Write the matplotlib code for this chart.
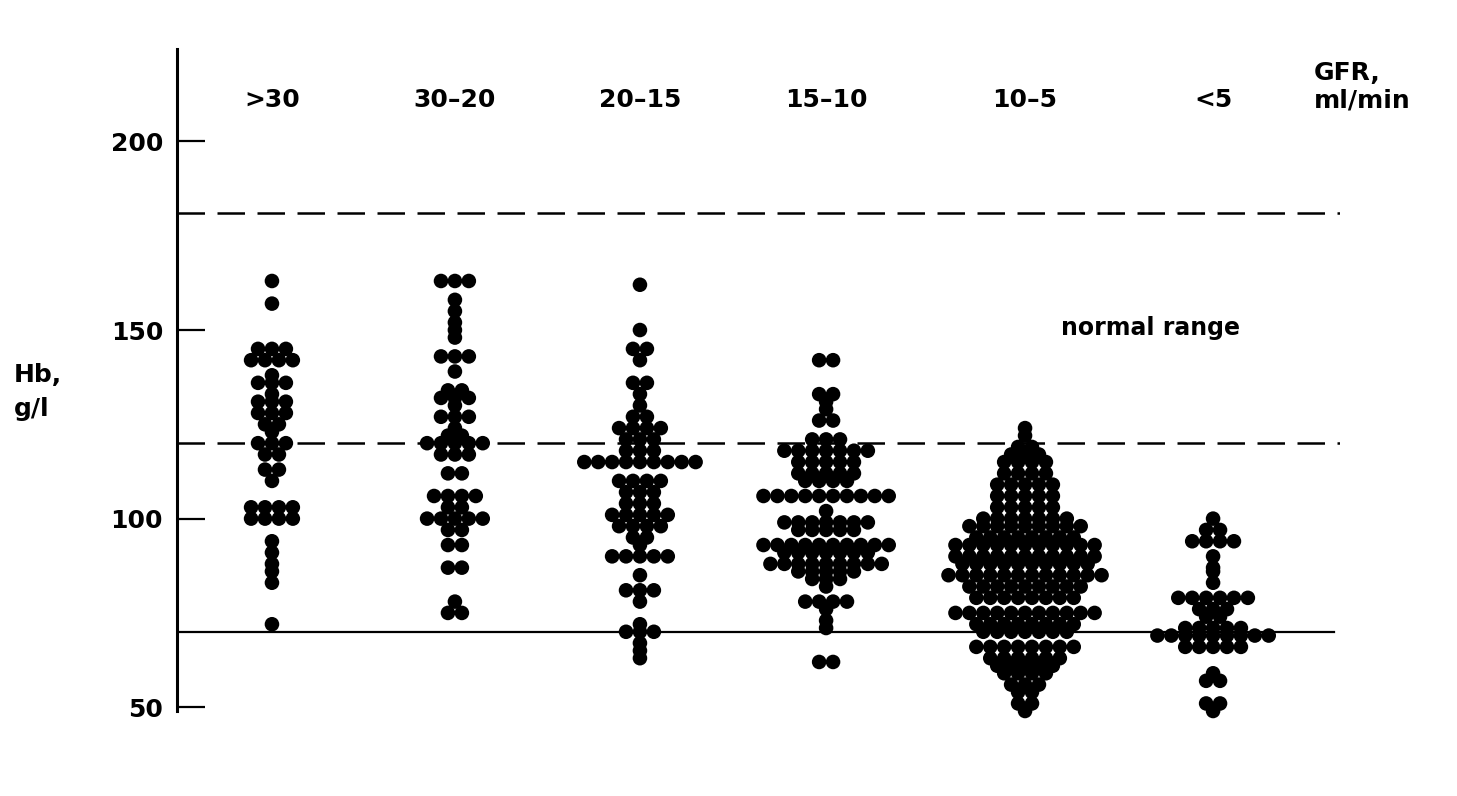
import matplotlib
matplotlib.use("Agg")
import matplotlib.pyplot as plt
from collections import Counter

# ---------------- data ----------------
categories = [">30", "30\u201320", "20\u201315", "15\u201310", "10\u20135", "<5"]

hb_gt30 = ([163, 157] + [145]*3 + [142]*4 + [138] + [136]*3 + [133] + [131]*3 +
           [128]*3 + [125]*2 + [123] + [120]*3 + [117]*2 + [113]*2 + [110] +
           [103]*4 + [100]*4 + [94, 91, 88, 86, 83, 72])
hb_30_20 = ([163]*3 + [158, 155, 152, 150, 148] + [143]*3 + [139] + [134]*2 +
            [132]*3 + [130] + [127]*3 + [124] + [122]*2 + [120]*5 + [117]*3 +
            [112]*2 + [106]*4 + [103]*2 + [100]*5 + [97]*2 + [93]*2 + [87]*2 +
            [78] + [75]*2)
hb_20_15 = ([162, 150] + [145]*2 + [142] + [136]*2 + [133, 130] + [127]*2 +
            [124]*4 + [121]*3 + [118]*3 + [115]*9 + [110]*4 + [107]*3 +
            [104]*3 + [101]*5 + [98]*4 + [95]*2 + [93] + [90]*5 + [85] +
            [81]*3 + [78, 72] + [70]*3 + [67, 65, 63])
hb_15_10 = ([142]*2 + [133]*2 + [131, 129] + [126]*2 + [121]*3 + [118]*7 +
            [115]*5 + [112]*5 + [110]*4 + [106]*10 + [102] + [99]*7 + [97]*5 +
            [93]*10 + [91]*7 + [88]*9 + [86]*5 + [84]*3 + [82] + [78]*4 +
            [76, 73, 71] + [62]*2)
hb_10_5 = ([124, 122] + [119]*2 + [117]*3 + [115]*4 + [112]*4 + [109]*5 +
           [106]*5 + [103]*5 + [100]*7 + [98]*9 + [95]*8 + [93]*11 + [90]*11 +
           [88]*10 + [85]*12 + [82]*9 + [79]*8 + [75]*11 + [72]*8 + [70]*7 +
           [66]*8 + [63]*6 + [61]*5 + [59]*4 + [56]*3 + [54]*2 + [51]*2 + [49])
hb_lt5 = ([100] + [97]*2 + [94]*4 + [90, 87, 86, 83] + [79]*6 + [76]*3 +
          [74]*2 + [71]*5 + [69]*9 + [66]*5 + [59] + [57]*2 + [51]*2 + [49])

groups = [hb_gt30, hb_30_20, hb_20_15, hb_15_10, hb_10_5, hb_lt5]

normal_low, normal_high = 120, 181
threshold = 70
yticks = [50, 100, 150, 200]

# ---------------- figure ----------------
W, H = 1457, 796
fig = plt.figure(figsize=(W/100, H/100), dpi=100)
ax = fig.add_axes([177/W, (H-711)/H, (1340-177)/W, (711-49)/H])

x_left, x_right = -0.505, 5.68
ax.set_xlim(x_left, x_right)
ax.set_ylim(49, 224.5)

# column centres (layout)
xpos = [0.0, 0.973, 1.957, 2.947, 4.005, 5.005]

dx = 0.074
for xc, vals in zip(xpos, groups):
    cnt = Counter(vals)
    xs, ys = [], []
    for v, n in cnt.items():
        for k in range(n):
            xs.append(xc + (k - (n - 1) / 2) * dx)
            ys.append(v)
    ax.scatter(xs, ys, s=110, color="black", edgecolors="none", zorder=3,
               clip_on=False)

# reference lines
ax.plot([x_left, x_right], [normal_high]*2, color="black", lw=1.8,
        dashes=(11, 5), zorder=2)
ax.plot([x_left, x_right], [normal_low]*2, color="black", lw=1.8,
        dashes=(11, 5), zorder=2)
ax.plot([x_left, x_right - 0.03], [threshold]*2, color="black", lw=1.6, zorder=2)

# spines / ticks
for s in ["top", "right", "bottom"]:
    ax.spines[s].set_visible(False)
ax.spines["left"].set_linewidth(2.2)
ax.set_xticks([])
ax.set_yticks(yticks)
ax.tick_params(axis="y", direction="in", length=20, width=1.6, pad=10,
               labelsize=18)
for lab in ax.get_yticklabels():
    lab.set_fontweight("bold")

# labels
fs = 18
for xc, c in zip(xpos, categories):
    ax.text(xc, 211, c, ha="center", va="center", fontsize=fs,
            fontweight="bold", clip_on=False)
ax.text(5.54, 214.5, "GFR,\nml/min", ha="left", va="center", fontsize=fs,
        fontweight="bold", linespacing=1.2, clip_on=False)
ax.text(4.67, 150.5, "normal range", ha="center", va="center", fontsize=17,
        fontweight="bold")
fig.text(14/W, 1 - 392/H, "Hb,\ng/l", ha="left", va="center", fontsize=fs,
         fontweight="bold", linespacing=1.5)

fig.savefig("out.png", dpi=100, facecolor="white")
